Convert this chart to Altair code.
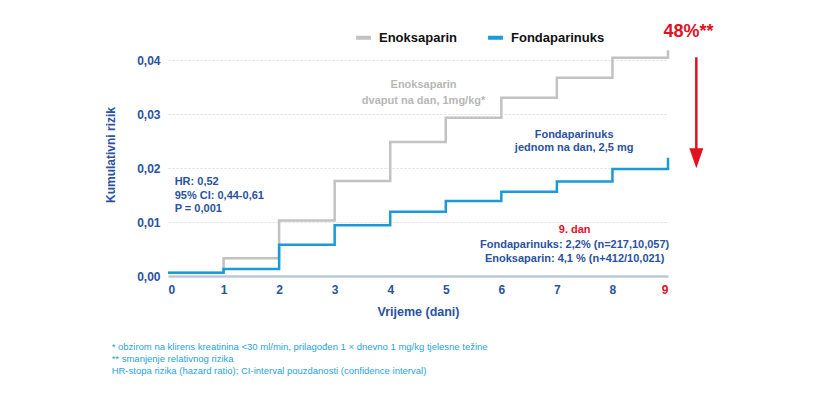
import altair as alt
import pandas as pd

days = [0, 1, 2, 3, 4, 5, 6, 7, 8, 9]
enox = [0.0006, 0.0033, 0.0103, 0.0176, 0.0248, 0.0293, 0.0330, 0.0367, 0.0404, 0.0418]
fonda = [0.0006, 0.0013, 0.0058, 0.0094, 0.0119, 0.0139, 0.0156, 0.0175, 0.0198, 0.0219]
series = ["Enoksaparin", "Fondaparinuks"]
colors = ["#c2c2c2", "#1a9ad6"]
y_ticks = [0, 0.01, 0.02, 0.03, 0.04]

BLUE = "#2a52a0"
RED = "#e3101f"
FONT = "Liberation Sans"

rows = []
for d, v in zip(days, enox):
    rows.append({"day": d, "risk": v, "series": series[0]})
for d, v in zip(days, fonda):
    rows.append({"day": d, "risk": v, "series": series[1]})
df = pd.DataFrame(rows)

x_scale = alt.Scale(domain=[0, 9], nice=False, zero=False)
y_scale = alt.Scale(domain=[0, 0.045], nice=False)

lines = alt.Chart(df).mark_line(interpolate="step-after", strokeWidth=2.5).encode(
    x=alt.X("day:Q", scale=x_scale, axis=alt.Axis(
        values=days, format="d", title="Vrijeme (dani)", grid=False, ticks=False,
        domainColor="#b9c9dc", domainWidth=2.5, labelPadding=8,
        labelFont=FONT, labelFontSize=12, labelFontWeight="bold",
        labelColor={"expr": f"datum.value == 9 ? '{RED}' : '{BLUE}'"},
        titleFont=FONT, titleFontSize=12.5, titleFontWeight="bold", titleColor=BLUE,
        titlePadding=10)),
    y=alt.Y("risk:Q", scale=y_scale, axis=alt.Axis(
        values=y_ticks, title="Kumulativni rizik", domain=False, ticks=False,
        grid=True, gridColor="#dcdcdc", gridDash=[2, 2], gridWidth=1,
        labelExpr="replace(format(datum.value, '.2f'), '.', ',')",
        labelPadding=8, labelFont=FONT, labelFontSize=12, labelFontWeight="bold",
        labelColor=BLUE, titleFont=FONT, titleFontSize=12, titleFontWeight="bold",
        titleColor=BLUE, titlePadding=19)),
    color=alt.Color("series:N", scale=alt.Scale(domain=series, range=colors),
                    legend=alt.Legend(title=None, orient="none", direction="horizontal",
                                      legendX=186, legendY=-5, symbolType="stroke",
                                      symbolStrokeWidth=4, symbolSize=220,
                                      labelFont=FONT, labelFontSize=13,
                                      labelFontWeight="bold", labelColor="#111111",
                                      columnPadding=22, labelOffset=6)),
)

ann_grey = pd.DataFrame({"x": [4.6, 4.6], "y": [0.0353, 0.0325],
                         "t": ["Enoksaparin", "dvaput na dan, 1mg/kg*"]})
ann_blue_c = pd.DataFrame({"x": [7.31, 7.31, 7.32, 7.32], "y": [0.0261, 0.0237, 0.00569, 0.00309],
                           "t": ["Fondaparinuks", "jednom na dan, 2,5 mg",
                                 "Fondaparinuks: 2,2% (n=217,10,057)",
                                 "Enoksaparin: 4,1 % (n+412/10,021)"]})
ann_blue_l = pd.DataFrame({"x": [0.12, 0.12, 0.12], "y": [0.0175, 0.0149, 0.0124],
                           "t": ["HR: 0,52", "95% CI: 0,44-0,61", "P = 0,001"]})
ann_red = pd.DataFrame({"x": [7.32], "y": [0.00846], "t": ["9. dan"]})
ann_big = pd.DataFrame({"x": [9.37], "y": [0.0451], "t": ["48%**"]})
arrow = pd.DataFrame({"x": [9.51], "y": [0.0405], "y2": [0.0225]})
head = pd.DataFrame({"x": [9.51], "y": [0.0218]})

def txt(data, color, align="center", size=11):
    return alt.Chart(data).mark_text(align=align, baseline="middle", font=FONT,
                                     fontSize=size, fontWeight="bold", color=color,
                                     clip=False).encode(
        x=alt.X("x:Q", scale=x_scale), y=alt.Y("y:Q", scale=y_scale), text="t:N")

t1 = txt(ann_grey, "#b7b7b7")
t2 = txt(ann_blue_c, BLUE)
t3 = txt(ann_blue_l, BLUE, align="left")
t4 = txt(ann_red, RED)
t5 = txt(ann_big, RED, size=18)

shaft = alt.Chart(arrow).mark_rule(color=RED, strokeWidth=2.5, clip=False).encode(
    x=alt.X("x:Q", scale=x_scale), y=alt.Y("y:Q", scale=y_scale), y2="y2:Q")
arrowhead = alt.Chart(head).mark_point(shape="M-0.7,-1L0.7,-1L0,1Z", filled=True,
                                       color=RED, opacity=1, size=400, clip=False).encode(
    x=alt.X("x:Q", scale=x_scale), y=alt.Y("y:Q", scale=y_scale))

chart = alt.layer(lines, t1, t2, t3, t4, t5, shaft, arrowhead).properties(
    width=500, height=243,
    autosize=alt.AutoSizeParams(type="none"),
    padding={"left": 160, "top": 25, "right": 140, "bottom": 110},
    title=alt.TitleParams(
        text=["* obzirom na klirens kreatinina <30 ml/min, prilagođen 1 × dnevno 1 mg/kg tjelesne težine",
              "** smanjenje relativnog rizika",
              "HR-stopa rizika (hazard ratio); CI-interval pouzdanosti (confidence interval)"],
        orient="bottom", anchor="start", dx=7, offset=24, font=FONT, fontSize=9.5,
        fontWeight="normal", color="#29a3dc", lineHeight=12),
).configure_view(stroke=None)

chart.save("out.html", embed_options={"renderer": "svg", "actions": False})
